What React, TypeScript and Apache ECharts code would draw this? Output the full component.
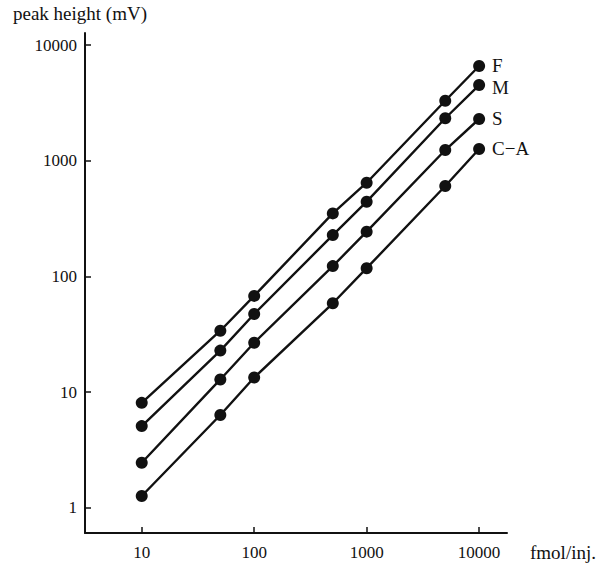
import React, { useEffect, useRef } from "react";
import * as echarts from "echarts";

const amounts = [10, 50, 100, 500, 1000, 5000, 10000];
const seriesNames = ["F", "M", "S", "C−A"];
const valuesF = [8.1, 34, 68, 351, 646, 3300, 6590];
const valuesM = [5.1, 22.9, 47.4, 228, 443, 2330, 4510];
const valuesS = [2.46, 12.9, 26.8, 123, 244, 1238, 2295];
const valuesCA = [1.27, 6.36, 13.4, 58.7, 118, 605, 1264];
const xTicks = [10, 100, 1000, 10000];
const yTicks = [1, 10, 100, 1000, 10000];

const FONT = "'Liberation Serif', 'Times New Roman', serif";
const INK = "#111";

export default function App() {
  const ref = useRef<HTMLDivElement>(null);
  useEffect(() => {
    if (!ref.current) return;
    const chart = echarts.init(ref.current, undefined, { renderer: "svg" });
    const all = [valuesF, valuesM, valuesS, valuesCA];
    const series = all.map((vals, i) => ({
      name: seriesNames[i],
      type: "line",
      data: amounts.map((a, j) => [a, vals[j]]),
      symbol: "circle",
      symbolSize: 12,
      itemStyle: { color: INK },
      lineStyle: { color: INK, width: 2.4 },
      endLabel: {
        show: true,
        formatter: seriesNames[i],
        distance: 13,
        color: INK,
        fontFamily: FONT,
        fontSize: 19,
        offset: i === 1 ? [0, 2] : [0, 0],
      },
      silent: true,
    }));
    chart.setOption({
      animation: false,
      backgroundColor: "#fff",
      grid: { left: 85, right: 92, top: 33, bottom: 34, containLabel: false },
      xAxis: {
        type: "log",
        logBase: 10,
        min: 3.13,
        max: 17700,
        name: "fmol/inj.",
        nameLocation: "end",
        nameGap: 23,
        nameTextStyle: {
          color: INK,
          fontFamily: FONT,
          fontSize: 19,
          align: "left",
          verticalAlign: "top",
          padding: [10, 0, 0, 0],
        },
        axisLine: { show: true, lineStyle: { color: INK, width: 2 } },
        axisTick: { show: true, inside: true, length: 6, customValues: xTicks, lineStyle: { color: INK, width: 1.5 } },
        axisLabel: {
          customValues: xTicks,
          color: INK,
          fontFamily: FONT,
          fontSize: 17,
          margin: 11,
          formatter: (v: number) => String(Math.round(v)),
        },
        splitLine: { show: false },
        minorTick: { show: false },
      },
      yAxis: {
        type: "log",
        logBase: 10,
        min: 0.608,
        max: 12700,
        name: "peak height (mV)",
        nameLocation: "end",
        nameGap: 10,
        nameTextStyle: {
          color: INK,
          fontFamily: FONT,
          fontSize: 19,
          align: "center",
          padding: [0, 10, 0, 0],
        },
        axisLine: { show: true, lineStyle: { color: INK, width: 2 } },
        axisTick: { show: true, inside: true, length: 6, customValues: yTicks, lineStyle: { color: INK, width: 1.5 } },
        axisLabel: {
          customValues: yTicks,
          color: INK,
          fontFamily: FONT,
          fontSize: 17,
          margin: 8,
          formatter: (v: number) => String(Math.round(v)),
        },
        splitLine: { show: false },
        minorTick: { show: false },
      },
      series,
    });
    return () => chart.dispose();
  }, []);
  return (
    <div
      ref={ref}
      style={{ position: "fixed", left: 0, top: 0, width: 599, height: 567 }}
    />
  );
}
